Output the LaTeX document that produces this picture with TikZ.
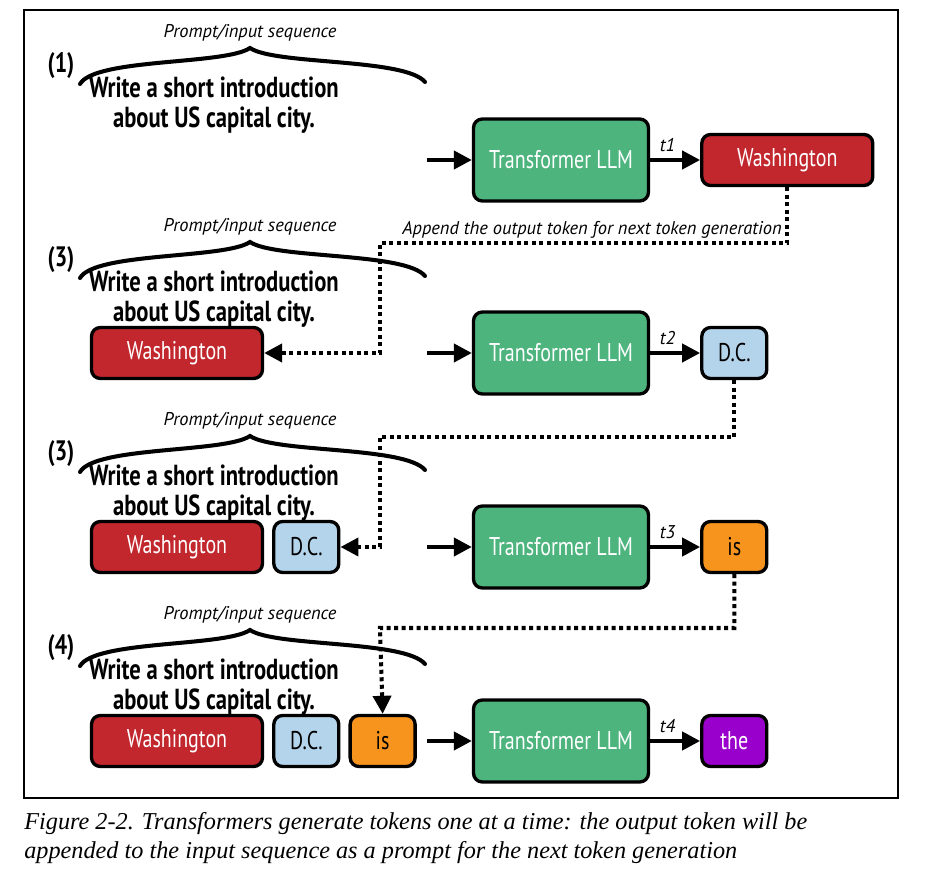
\documentclass[tikz,border=0pt]{standalone}
\usepackage{fontspec}
\setmainfont{PT Sans}[FakeStretch=0.78]
\newfontfamily\labelfont{PT Sans}
\newfontfamily\captionfont{Liberation Serif}
\usetikzlibrary{arrows.meta,positioning}

\definecolor{llmgreen}{RGB}{77,180,126}
\definecolor{tokred}{RGB}{193,39,45}
\definecolor{tokblue}{RGB}{180,212,236}
\definecolor{tokorange}{RGB}{247,148,30}
\definecolor{tokpurple}{RGB}{153,0,204}

\begin{document}
\begin{tikzpicture}[
        x=0.02cm, y=-0.02cm,
        tfbox/.style={rectangle, draw=black, line width=1.9pt, fill=llmgreen, text=white, rounded corners=5pt, minimum width=3.5cm, minimum height=1.64cm, font=\fontsize{14.6}{16}\selectfont},
        tokbox/.style={rectangle, draw=black, line width=1.9pt, rounded corners=5pt, minimum height=1.02cm, font=\fontsize{14.6}{16}\selectfont},
        washbox/.style={tokbox, fill=tokred, text=white, minimum width=3.42cm},
        smallbox/.style={tokbox, minimum width=1.3cm},
        arrow/.style={-{Triangle[length=0.36cm,width=0.36cm]}, line width=2.3pt},
        dotarrow/.style={arrow, dash pattern=on 0.08cm off 0.07cm},
        tlabel/.style={font=\labelfont\itshape\fontsize{10.5}{12}\selectfont},
        intro/.style={align=center, font=\bfseries\fontsize{16.5}{16.8}\selectfont}
    ]
        \useasboundingbox (0,0) rectangle (927,881);
        \draw[line width=0.8pt] (24,10) rectangle (898,798);

        % Prompt blocks
        \foreach \o/\k [count=\i] in {0/1,194/3,388/3,582/4} {
            \node[tlabel] (seq\i) at (250,{33+\o}) {Prompt/input sequence};
            \node[font=\bfseries\fontsize{16}{16}\selectfont] (num\i) at (61,{66+\o}) {(\k)};
            \draw[line width=2.3pt, line cap=round] (80,{84+\o}) .. controls (95,{58+\o}) and (225,{65+\o}) .. (250,{48+\o}) .. controls (275,{65+\o}) and (405,{58+\o}) .. (425,{82+\o});
            \node[intro] (intro\i) at (214,{105+\o}) {Write a short introduction\\about US capital city.};
        }

        % Transformer blocks
        \node[tfbox] (tf1) at (561,160) {Transformer LLM};
        \node[tfbox] (tf2) at (561,353) {Transformer LLM};
        \node[tfbox] (tf3) at (561,547) {Transformer LLM};
        \node[tfbox] (tf4) at (561,741) {Transformer LLM};

        % Output tokens
        \node[washbox, right=1cm of tf1] (out1) {Washington};
        \node[smallbox, fill=tokblue, right=1cm of tf2] (out2) {D.C.};
        \node[smallbox, fill=tokorange, right=1cm of tf3] (out3) {is};
        \node[smallbox, fill=tokpurple, text=white, right=1cm of tf4] (out4) {the};

        % Input tokens
        \node[washbox] (wash2) at (177,353) {Washington};
        \node[washbox] (wash3) at (177,547) {Washington};
        \node[smallbox, fill=tokblue, right=0.16cm of wash3] (dc3) {D.C.};
        \node[washbox] (wash4) at (177,741) {Washington};
        \node[smallbox, fill=tokblue, right=0.16cm of wash4] (dc4) {D.C.};
        \node[smallbox, fill=tokorange, right=0.16cm of dc4] (is4) {is};

        % Inputs
        \coordinate (in1) at (427,160);
        \coordinate (in2) at (427,353);
        \coordinate (in3) at (427,547);
        \coordinate (in4) at (427,741);
        \draw[arrow] (in1) -- (tf1);
        \draw[arrow] (in2) -- (tf2);
        \draw[arrow] (in3) -- (tf3);
        \draw[arrow] (in4) -- (tf4);

        % Generation steps
        \draw[arrow] (tf1) -- (out1) node[tlabel, pos=0.35, above] {t1};
        \draw[arrow] (tf2) -- (out2) node[tlabel, pos=0.35, above] {t2};
        \draw[arrow] (tf3) -- (out3) node[tlabel, pos=0.35, above] {t3};
        \draw[arrow] (tf4) -- (out4) node[tlabel, pos=0.35, above] {t4};

        % Append paths
        \coordinate (bend1) at (380,243);
        \coordinate (bend2) at (380,437);
        \coordinate (bend3) at (380,628);
        \draw[dotarrow] (out1.south) |- (bend1) |- (wash2.east);
        \draw[dotarrow] (out2.south) |- (bend2) |- (dc3.east);
        \draw[dotarrow] (out3.south) |- (bend3) -- (is4.north);
        \node[tlabel, anchor=east] (appendlbl) at (788,230) {Append the output token for next token generation};

        % Caption
        \node[anchor=base west, inner sep=0pt, font=\captionfont\itshape\fontsize{13.8}{15}\selectfont] (caption1) at (24,829) {Figure 2-2. Transformers generate tokens one at a time: the output token will be};
        \node[anchor=base west, inner sep=0pt, font=\captionfont\itshape\fontsize{13.8}{15}\selectfont] (caption2) at (24,858) {appended to the input sequence as a prompt for the next token generation};
    \end{tikzpicture}
\end{document}
